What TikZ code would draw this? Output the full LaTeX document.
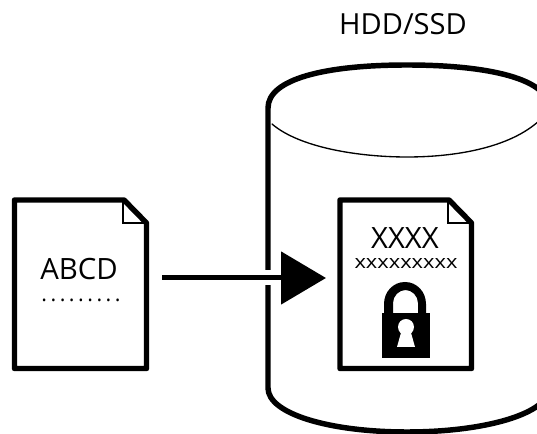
\documentclass[tikz,border=0pt]{standalone}
\usepackage{fontspec}
\setmainfont{Open Sans}
\usetikzlibrary{arrows.meta}
\tikzset{
  thick outline/.style={line width=4.1pt,line join=round,draw=black},
  fold line/.style={line width=0.9pt,draw=black},
  thin arc/.style={line width=1pt,draw=black,line cap=round},
  label text/.style={inner sep=0pt,text=black,anchor=base},
}
\begin{document}
\begin{tikzpicture}[x=0.75pt,y=-0.75pt]
\clip (0,0) rectangle (537,434);
\fill[white] (0,0) rectangle (537,434);
% cylinder
\draw[thick outline] (268,388) -- (268,108) .. controls (268,79) and (325,65) .. (407,65) .. controls (489,65) and (549,79) .. (549,108) -- (549,388) .. controls (549,414) and (484,432) .. (407,432) .. controls (330,432) and (268,414) .. (268,388) -- cycle;
\draw[thin arc] (272,124) .. controls (300,148) and (360,157) .. (407,157) .. controls (455,157) and (510,148) .. (540,120);
\node[label text,font=\fontsize{21.8pt}{24pt}\selectfont] (hdd) at (403,35) {HDD/SSD};
% plain document
\draw[thick outline] (14.5,200) -- (124,200) -- (146.5,223) -- (146.5,368.5) -- (14.5,368.5) -- cycle;
\draw[fold line] (123,201) -- (123,223) -- (146,223);
\node[label text,font=\fontsize{22pt}{24pt}\selectfont] (abcd) at (79,280) {ABCD};
\node[label text,font=\fontsize{16pt}{18pt}\selectfont\addfontfeature{LetterSpace=16.5}] (dots) at (81,302) {.........};
% encrypted document
\draw[thick outline] (340,200) -- (449,200) -- (471.5,223) -- (471.5,368.5) -- (340,368.5) -- cycle;
\draw[fold line] (448,201) -- (448,223) -- (471,223);
\node[label text,font=\fontsize{22pt}{24pt}\selectfont] (xxxx) at (405,249) {XXXX};
\node[label text,font=\fontsize{14pt}{16pt}\selectfont] (xsmall) at (406,269) {\scalebox{1.17}[1]{xxxxxxxxx}};
% padlock
\fill[black] (382,313) rectangle (430,358);
\fill[black] (384,314) -- (384,304) .. controls (384,292) and (393,282) .. (405,282) .. controls (417,282) and (426,292) .. (426,304) -- (426,314) -- (418,314) -- (418,303) .. controls (418,296) and (412,290) .. (405.5,290) .. controls (399,290) and (393,296) .. (393,303) -- (393,314) -- cycle;
\fill[white] (406,327) circle[x radius=8,y radius=8];
\fill[white] (401.5,331) -- (410.5,331) -- (415,347) -- (397,347) -- cycle;
% arrow
\coordinate (arrowstart) at (162,278);
\coordinate (arrowend) at (326,278);
\fill[white] (262,270.5) rectangle (272,285.5);
\draw[line width=3.75pt,-{Triangle[length=33.75pt,width=39pt]}] (arrowstart) -- (arrowend);
\end{tikzpicture}
\end{document}
